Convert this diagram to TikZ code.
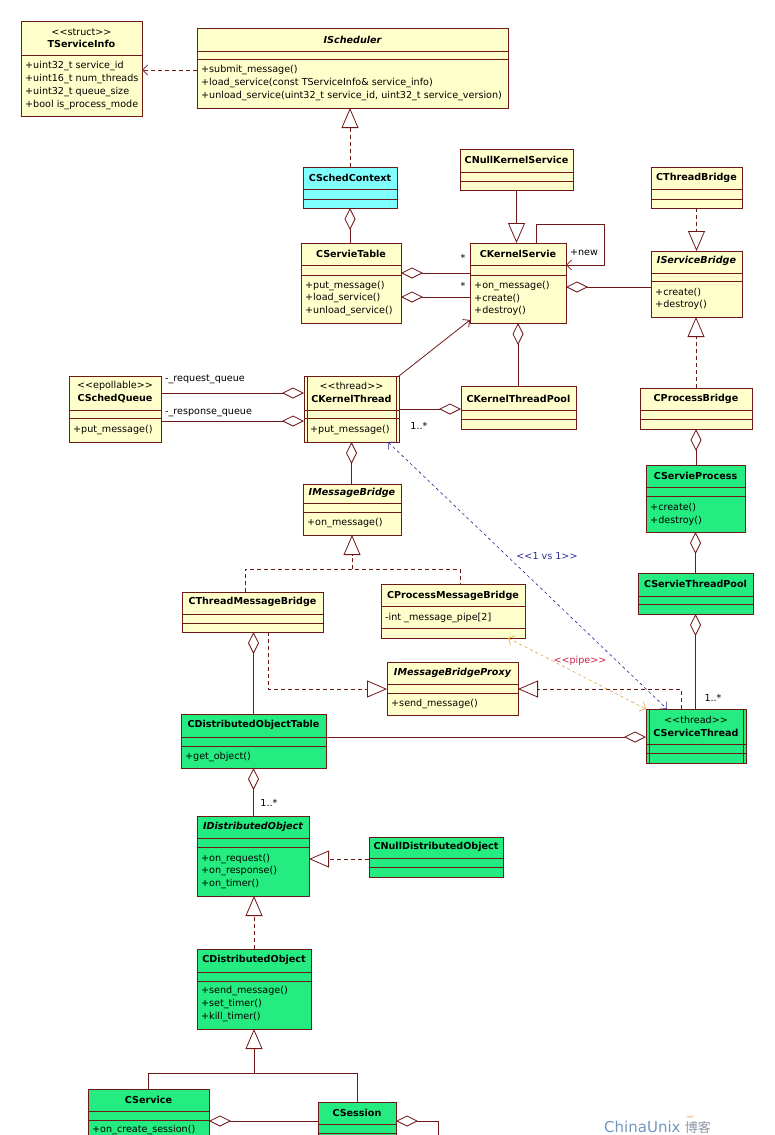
\documentclass[tikz,border=0pt]{standalone}
\usepackage{fontspec}
\setmainfont{DejaVu Sans}
\newfontfamily\cjkfont{Noto Sans CJK SC}
\usetikzlibrary{arrows.meta, fit, calc}

\definecolor{umlyellow}{RGB}{255,255,204}
\definecolor{umlgreen}{RGB}{36,236,128}
\definecolor{umlcyan}{RGB}{128,255,255}
\definecolor{umledge}{RGB}{112,24,24}
\definecolor{vsblue}{RGB}{40,40,150}
\definecolor{pipeorange}{RGB}{232,160,64}
\definecolor{pipered}{RGB}{204,30,70}
\definecolor{cublue}{RGB}{110,150,190}
\definecolor{cugray}{RGB}{140,150,165}

\tikzset{
  umlline/.style={draw=umledge, line width=0.8pt},
  classbox/.style={umlline, inner sep=0pt, outer sep=0pt},
  classname/.style={font=\bfseries, inner sep=0pt},
  ifacename/.style={font=\bfseries\itshape, inner sep=0pt},
  stereo/.style={inner sep=0pt},
  member/.style={anchor=west, inner sep=0pt, xshift=4pt},
  note/.style={inner sep=0pt},
  aggr/.style={umlline, {Diamond[open, length=22pt, width=11pt]}-},
  general/.style={umlline, -{Triangle[open, length=20pt, width=17pt]}},
  realize/.style={general, dash pattern=on 4pt off 3pt},
  dashline/.style={umlline, dash pattern=on 4pt off 3pt},
  depend/.style={umlline, dash pattern=on 4pt off 3pt, -{Straight Barb[length=5pt, width=10pt]}},
  assoc/.style={umlline, -{Straight Barb[length=5pt, width=10pt]}},
  onevsone/.style={draw=vsblue, line width=0.6pt, dash pattern=on 3pt off 3pt,
    {Straight Barb[length=5pt, width=10pt]}-{Straight Barb[length=5pt, width=10pt]}},
  pipeline/.style={draw=pipeorange, line width=0.6pt, dash pattern=on 3pt off 3pt,
    {Straight Barb[length=5pt, width=10pt]}-{Straight Barb[length=5pt, width=10pt]}}
}

% class box: name, fill, x1, y1, x2, y2, first line, second line
\newcommand{\umlclass}[8]{%
  \node[classbox, fill=#2, fit={(#3,#4) (#5,#6)}] (#1) {};
  \draw[umlline] (#3,#7) -- (#5,#7) (#3,#8) -- (#5,#8);
}
% double side bars of an active class
\newcommand{\activesides}[1]{%
  \draw[umlline] ([xshift=3pt]#1.north west) -- ([xshift=3pt]#1.south west)
                 ([xshift=-3pt]#1.north east) -- ([xshift=-3pt]#1.south east);
}
% <<...>> without guillemet ligature
\newcommand{\stereotype}[1]{<{}<#1>{}>}

\begin{document}
\fontsize{9.6}{11}\selectfont
\begin{tikzpicture}[x=1pt, y=-1pt]
    \useasboundingbox (0,0) rectangle (774,1135);
    \clip (0,0) rectangle (774,1135);

    % Top row: scheduler interface and its struct
    \umlclass{serviceinfo}{umlyellow}{21}{21}{142}{116}{55}{55}
    \node[stereo] at (serviceinfo.north |- 0,32) {\stereotype{struct}};
    \node[classname] at (serviceinfo.north |- 0,44) {TServiceInfo};
    \node[member] at (serviceinfo.west |- 0,66) {+uint32\_t service\_id};
    \node[member] at (serviceinfo.west |- 0,79) {+uint16\_t num\_threads};
    \node[member] at (serviceinfo.west |- 0,92) {+uint32\_t queue\_size};
    \node[member] at (serviceinfo.west |- 0,105) {+bool is\_process\_mode};

    \umlclass{scheduler}{umlyellow}{197}{28}{508}{108}{51}{59}
    \node[ifacename] at (scheduler.north |- 0,40) {IScheduler};
    \node[member] at (scheduler.west |- 0,70) {+submit\_message()};
    \node[member] at (scheduler.west |- 0,83) {+load\_service(const TServiceInfo\& service\_info)};
    \node[member] at (scheduler.west |- 0,96) {+unload\_service(uint32\_t service\_id, uint32\_t service\_version)};

    % Kernel side
    \umlclass{schedcontext}{umlcyan}{303}{167}{397}{208}{189}{199}
    \node[classname] at (schedcontext.north |- 0,178) {CSchedContext};

    \umlclass{nullkernel}{umlyellow}{460}{149}{573}{190}{172}{181}
    \node[classname] at (nullkernel.north |- 0,160) {CNullKernelService};

    \umlclass{servietable}{umlyellow}{301}{243}{401}{323}{265}{275}
    \node[classname] at (servietable.north |- 0,254) {CServieTable};
    \node[member] at (servietable.west |- 0,286) {+put\_message()};
    \node[member] at (servietable.west |- 0,298) {+load\_service()};
    \node[member] at (servietable.west |- 0,311) {+unload\_service()};

    \umlclass{kernelservie}{umlyellow}{470}{243}{566}{323}{265}{275}
    \node[classname] at (kernelservie.north |- 0,254) {CKernelServie};
    \node[member] at (kernelservie.west |- 0,286) {+on\_message()};
    \node[member] at (kernelservie.west |- 0,298) {+create()};
    \node[member] at (kernelservie.west |- 0,311) {+destroy()};

    \umlclass{threadbridge}{umlyellow}{651}{167}{742}{208}{189}{199}
    \node[classname] at (threadbridge.north |- 0,178) {CThreadBridge};

    \umlclass{servicebridge}{umlyellow}{651}{251}{742}{317}{273}{281}
    \node[ifacename] at (servicebridge.north |- 0,261) {IServiceBridge};
    \node[member] at (servicebridge.west |- 0,292) {+create()};
    \node[member] at (servicebridge.west |- 0,305) {+destroy()};

    \umlclass{schedqueue}{umlyellow}{69}{376}{161}{442}{410}{418}
    \node[stereo] at (schedqueue.north |- 0,386) {\stereotype{epollable}};
    \node[classname] at (schedqueue.north |- 0,399) {CSchedQueue};
    \node[member] at (schedqueue.west |- 0,430) {+put\_message()};

    \umlclass{kernelthread}{umlyellow}{304}{376}{399}{442}{410}{418}
    \activesides{kernelthread}
    \node[stereo] at (kernelthread.north |- 0,386) {\stereotype{thread}};
    \node[classname] at (kernelthread.north |- 0,399) {CKernelThread};
    \node[member, xshift=2pt] at (kernelthread.west |- 0,430) {+put\_message()};

    \umlclass{kernelthreadpool}{umlyellow}{461}{386}{576}{429}{410}{419}
    \node[classname] at (kernelthreadpool.north |- 0,399) {CKernelThreadPool};

    % Process side
    \umlclass{processbridge}{umlyellow}{640}{388}{752}{429}{410}{419}
    \node[classname] at (processbridge.north |- 0,399) {CProcessBridge};

    \umlclass{servprocess}{umlgreen}{646}{465}{745}{532}{487}{496}
    \node[classname] at (servprocess.north |- 0,476) {CServieProcess};
    \node[member] at (servprocess.west |- 0,507) {+create()};
    \node[member] at (servprocess.west |- 0,521) {+destroy()};

    \umlclass{servthreadpool}{umlgreen}{638}{573}{753}{614}{596}{604}
    \node[classname] at (servthreadpool.north |- 0,584) {CServieThreadPool};

    \umlclass{servicethread}{umlgreen}{646}{709}{746}{763}{744}{753}
    \activesides{servicethread}
    \node[stereo] at (servicethread.north |- 0,720) {\stereotype{thread}};
    \node[classname] at (servicethread.north |- 0,733) {CServiceThread};

    % Message bridges
    \umlclass{messagebridge}{umlyellow}{303}{484}{401}{535}{503}{512}
    \node[ifacename] at (messagebridge.north |- 0,493) {IMessageBridge};
    \node[member] at (messagebridge.west |- 0,523) {+on\_message()};

    \umlclass{threadmsgbridge}{umlyellow}{182}{592}{323}{632}{614}{623}
    \node[classname] at (threadmsgbridge.north |- 0,602) {CThreadMessageBridge};

    \umlclass{processmsgbridge}{umlyellow}{381}{584}{525}{638}{606}{628}
    \node[classname] at (processmsgbridge.north |- 0,596) {CProcessMessageBridge};
    \node[member] at (processmsgbridge.west |- 0,618) {-int \_message\_pipe[2]};

    \umlclass{msgproxy}{umlyellow}{387}{662}{518}{715}{684}{693}
    \node[ifacename] at (msgproxy.north |- 0,673) {IMessageBridgeProxy};
    \node[member] at (msgproxy.west |- 0,704) {+send\_message()};

    % Distributed objects
    \umlclass{dotable}{umlgreen}{181}{714}{326}{768}{737}{746}
    \node[classname] at (dotable.north |- 0,725) {CDistributedObjectTable};
    \node[member] at (dotable.west |- 0,757) {+get\_object()};

    \umlclass{idistobj}{umlgreen}{197}{816}{309}{896}{838}{847}
    \node[ifacename] at (idistobj.north |- 0,827) {IDistributedObject};
    \node[member] at (idistobj.west |- 0,859) {+on\_request()};
    \node[member] at (idistobj.west |- 0,871) {+on\_response()};
    \node[member] at (idistobj.west |- 0,884) {+on\_timer()};

    \umlclass{nulldistobj}{umlgreen}{369}{837}{503}{877}{858}{867}
    \node[classname] at (nulldistobj.north |- 0,847) {CNullDistributedObject};

    \umlclass{cdistobj}{umlgreen}{197}{949}{311}{1029}{972}{981}
    \node[classname] at (cdistobj.north |- 0,960) {CDistributedObject};
    \node[member] at (cdistobj.west |- 0,991) {+send\_message()};
    \node[member] at (cdistobj.west |- 0,1004) {+set\_timer()};
    \node[member] at (cdistobj.west |- 0,1017) {+kill\_timer()};

    \umlclass{service}{umlgreen}{88}{1089}{209}{1160}{1111}{1120}
    \node[classname] at (service.north |- 0,1100) {CService};
    \node[member] at (service.west |- 0,1130) {+on\_create\_session()};

    \umlclass{session}{umlgreen}{318}{1102}{396}{1160}{1124}{1133}
    \node[classname] at (session.north |- 0,1113) {CSession};

    % Connectors, top part
    \draw[depend] (scheduler.west |- 0,70) -- (serviceinfo.east |- 0,70);
    \draw[realize] (schedcontext.north) -- (schedcontext.north |- scheduler.south);
    \draw[aggr] (schedcontext.south) -- (schedcontext.south |- servietable.north);
    \draw[general] (nullkernel.south) -- (nullkernel.south |- kernelservie.north);
    \draw[aggr] (servietable.east |- 0,273) -- (kernelservie.west |- 0,273);
    \draw[aggr] (servietable.east |- 0,297) -- (kernelservie.west |- 0,297);
    \node[note] at (463,258) {*};
    \node[note] at (463,286) {*};
    \draw[assoc] (kernelservie.north -| 536,0) |- (604,224) |- (kernelservie.east |- 0,265);
    \node[note] at (584,253) {+new};
    \draw[aggr] (kernelservie.east |- 0,287) -- (servicebridge.west |- 0,287);
    \draw[realize] (threadbridge.south) -- (servicebridge.north);
    \draw[realize] (processbridge.north) -- (processbridge.north |- servicebridge.south);

    % Kernel thread
    \draw[aggr] (kernelservie.south) -- (kernelservie.south |- kernelthreadpool.north);
    \draw[assoc] (kernelthread.north east) -- ([yshift=3pt]kernelservie.south west);
    \draw[aggr] (kernelthreadpool.west |- 0,409) -- (kernelthread.east |- 0,409);
    \node[note] at (419,426) {1..*};
    \draw[aggr] (kernelthread.west |- 0,393) -- (schedqueue.east |- 0,393);
    \draw[aggr] (kernelthread.west |- 0,421) -- (schedqueue.east |- 0,421);
    \node[note, anchor=west] at (165,379) {-\_request\_queue};
    \node[note, anchor=west] at (165,413) {-\_response\_queue};
    \draw[aggr] (kernelthread.south) -- (kernelthread.south |- messagebridge.north);

    % Process side chain
    \draw[aggr] (processbridge.south) -- (processbridge.south |- servprocess.north);
    \draw[aggr] (servprocess.south) -- (servprocess.south |- servthreadpool.north);
    \draw[aggr] (servthreadpool.south) -- (servthreadpool.south |- servicethread.north);
    \node[note] at (713,698) {1..*};

    % Message bridges
    \coordinate (msgjoin) at (messagebridge.south |- 0,569);
    \draw[dashline] (threadmsgbridge.north -| 245,0) |- (msgjoin) -| (processmsgbridge.north -| 460,0);
    \draw[realize] (msgjoin) -- (messagebridge.south);
    \draw[realize] (threadmsgbridge.south -| 268,0) |- (msgproxy.west |- 0,689);
    \draw[realize] (servicethread.north -| 681,0) |- (msgproxy.east |- 0,689);
    \draw[aggr] (threadmsgbridge.south -| dotable.north) -- (dotable.north);
    \draw[aggr] (servicethread.west |- 0,737) -- (dotable.east |- 0,737);

    % 1 vs 1 and pipe
    \draw[onevsone] ([xshift=-11pt]kernelthread.south east) -- ([xshift=-29pt]servicethread.north);
    \node[note, text=vsblue] at (547,556) {\stereotype{1 vs 1}};
    \draw[pipeline] ([xshift=-17pt]processmsgbridge.south east) -- (servicethread.north west);
    \node[note, text=pipered] at (580,661) {\stereotype{pipe}};

    % Distributed objects
    \draw[aggr] (dotable.south) -- (dotable.south |- idistobj.north);
    \node[note] at (269,803) {1..*};
    \draw[realize] (nulldistobj.west |- 0,859) -- (idistobj.east |- 0,859);
    \draw[realize] (cdistobj.north) -- (cdistobj.north |- idistobj.south);
    \coordinate (objjoin) at (cdistobj.south |- 0,1073);
    \draw[umlline] (service.north) |- (objjoin) -| (session.north);
    \draw[general] (objjoin) -- (cdistobj.south);
    \draw[aggr] (service.east |- 0,1121) -- (session.west |- 0,1121);
    \coordinate (offpage) at (438,1160);
    \draw[aggr] (session.east |- 0,1121) -| (offpage);

    % Watermark
    \node[note, text=cublue, font=\fontsize{15}{15}\selectfont, anchor=west] (cu) at (604,1127) {ChinaUnix};
    \node[note, text=cugray, font=\cjkfont\fontsize{13}{13}\selectfont, anchor=west] at ([xshift=4pt]cu.east) {博客};
    \node[note, text=pipeorange, font=\fontsize{4}{4}\selectfont] at (690,1117) {net};
\end{tikzpicture}
\end{document}
